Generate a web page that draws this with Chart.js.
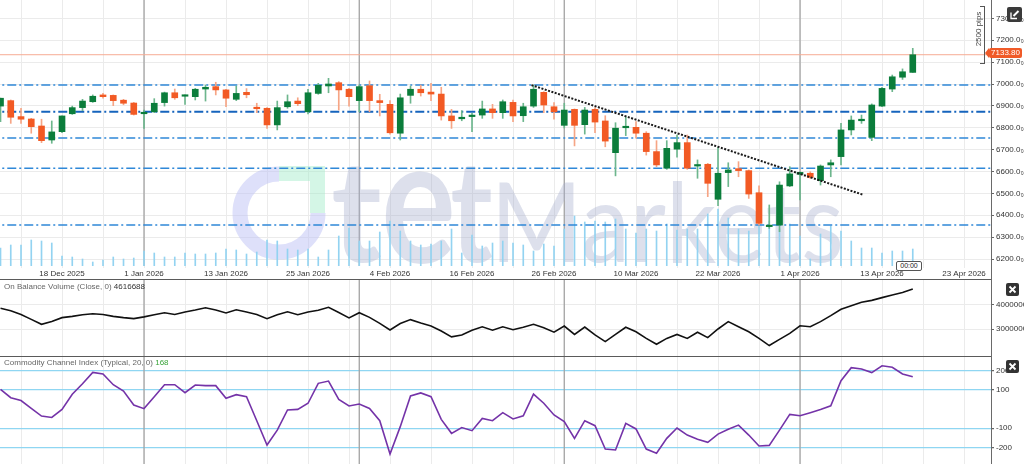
<!DOCTYPE html>
<html><head><meta charset="utf-8">
<script src="https://cdn.jsdelivr.net/npm/chart.js@4.4.1/dist/chart.umd.min.js"></script>
<style>
html,body{margin:0;padding:0;background:#fff;}
body{width:1024px;height:464px;overflow:hidden;position:relative;font-family:"Liberation Sans",Arial,sans-serif;}
canvas{position:absolute;left:0;display:block;}
.abs{position:absolute;}
.hl{position:absolute;left:0;width:992px;height:1px;background:#5a5a5a;}
.title{position:absolute;left:4px;font-size:8px;color:#666;white-space:nowrap;line-height:10px;}
.xbtn{position:absolute;left:1006px;width:13px;height:13px;}
</style></head>
<body>
<canvas id="cMain" width="1024" height="279" style="top:0"></canvas>
<canvas id="cObv" width="1024" height="76" style="top:280px"></canvas>
<canvas id="cCci" width="1024" height="107" style="top:357px"></canvas>

<div class="hl" style="top:279px"></div>
<div class="hl" style="top:356px"></div>
<div class="abs" style="left:991px;top:0;width:1px;height:464px;background:#6a6a6a"></div>

<div class="title" style="top:282px">On Balance Volume (Close, 0) <span id="obvVal" style="color:#333"></span></div>
<div class="title" style="top:358px">Commodity Channel Index (Typical, 20, 0) <span id="cciVal" style="color:#3aa43a"></span></div>

<svg class="abs" style="left:1007px;top:7px" width="15" height="15"><rect width="15" height="15" rx="2" fill="#3a3a3a"/><path d="M4 5.5v6h6" stroke="#fff" fill="none" stroke-width="1.3"/><path d="M6.5 9l5-5" stroke="#fff" stroke-width="2"/></svg>
<svg class="xbtn" style="top:283px" width="13" height="13"><rect width="13" height="13" rx="2" fill="#333"/><path d="M3.5 3.5l6 6M9.5 3.5l-6 6" stroke="#fff" stroke-width="1.8"/></svg>
<svg class="xbtn" style="top:360px" width="13" height="13"><rect width="13" height="13" rx="2" fill="#333"/><path d="M3.5 3.5l6 6M9.5 3.5l-6 6" stroke="#fff" stroke-width="1.8"/></svg>

<div class="abs" style="left:980px;top:6px;width:4px;height:56px;border:1px solid #555;border-left:none"></div>
<div class="abs" style="left:951px;top:24px;width:56px;height:10px;font-size:8px;color:#444;text-align:center;line-height:10px;transform:rotate(-90deg)">2500 pips</div>
<div id="pxBox" class="abs" style="left:989px;top:48px;width:33px;height:10px;background:#f05a28;color:#fff;font-size:8px;line-height:10px;text-align:center;border-radius:2px"></div>
<div class="abs" style="left:985px;top:48px;width:0;height:0;border-top:5px solid transparent;border-bottom:5px solid transparent;border-right:4px solid #f05a28"></div>
<div class="abs" style="left:896px;top:261px;width:24px;height:8px;border:1px solid #555;border-radius:2px;background:#fff;font-size:7px;line-height:8px;text-align:center;color:#222">00:00</div>

<script>
// ---------- DATA ----------
const dateLabels = ['18 Dec 2025','1 Jan 2026','13 Jan 2026','25 Jan 2026','4 Feb 2026','16 Feb 2026','26 Feb 2026','10 Mar 2026','22 Mar 2026','1 Apr 2026','13 Apr 2026','23 Apr 2026'];
const dateLabelBars = [6,14,22,30,38,46,54,62,70,78,86,94];
const monthStartBars = [14,35,55,78];
const priceTicks = [6200,6300,6400,6500,6600,6700,6800,6900,7000,7100,7200,7300];
const obvTicks = [3000000,4000000];
const cciTicks = [-200,-100,100,200];
const levels = [6995,6873,6753,6615,6355];
const lastPrice = 7133.80;
const trendBars = [51.8,84.2];
const trendPrices = [6995,6493];

const opens = [6899,6924,6851,6840,6808,6744,6782,6864,6892,6919,
6950,6948,6926,6913,6864,6873,6915,6960,6944,6942,
6977,6988,6973,6930,6962,6893,6889,6813,6896,6922,
6873,6957,6991,7006,6976,6924,6992,6924,6907,6775,
6948,6976,6963,6954,6854,6841,6851,6858,6886,6869,
6916,6855,6899,6962,6896,6811,6884,6814,6884,6831,
6686,6800,6802,6775,6691,6615,6702,6732,6625,6633,
6473,6595,6613,6604,6503,6348,6355,6534,6587,6592,
6558,6630,6668,6790,6832,6756,6899,6977,7031,7053];
const highs = [6936,6927,6889,6843,6839,6831,6855,6899,6930,6950,
6957,6950,6930,6916,6881,6933,6963,6977,6950,6980,
6995,7008,6976,6991,6979,6912,6892,6922,6950,6937,
6976,7003,7026,7011,6980,6995,7014,6953,6924,6954,
6991,6995,7003,6985,6884,6878,6866,6922,6907,6927,
6927,6912,6995,6965,6915,6912,6886,6893,6892,6855,
6823,6851,6828,6782,6741,6741,6767,6767,6653,6637,
6711,6640,6645,6607,6534,6447,6553,6622,6599,6599,
6630,6653,6820,6854,6858,6909,6985,7041,7069,7163];
const lows = [6828,6820,6820,6775,6732,6729,6777,6861,6878,6916,
6935,6901,6905,6858,6797,6869,6899,6930,6907,6927,
6922,6950,6896,6924,6937,6869,6797,6790,6889,6901,
6863,6953,6960,6881,6899,6873,6873,6854,6771,6744,
6912,6945,6924,6835,6797,6832,6782,6843,6843,6843,
6828,6828,6893,6869,6839,6799,6717,6771,6777,6713,
6580,6764,6752,6675,6622,6610,6665,6610,6569,6485,
6444,6531,6576,6477,6355,6340,6325,6531,6470,6569,
6538,6576,6630,6767,6820,6741,6896,6965,7021,7053];
const closes = [6935,6848,6839,6805,6741,6781,6854,6892,6922,6944,
6942,6924,6912,6861,6867,6912,6960,6937,6947,6976,
6985,6973,6935,6957,6951,6887,6813,6892,6919,6910,
6960,6994,7000,6973,6942,6988,6924,6915,6777,6937,
6976,6960,6954,6854,6832,6848,6855,6886,6869,6919,
6854,6896,6976,6904,6873,6881,6811,6881,6826,6739,
6798,6802,6775,6691,6630,6706,6732,6615,6628,6546,
6592,6607,6604,6497,6363,6351,6538,6589,6596,6573,
6625,6640,6790,6835,6839,6904,6980,7033,7056,7133.8];
const volumes = [1800,2100,2100,2600,2500,2300,1000,900,700,400,
600,900,700,800,1500,1300,900,900,1300,1200,
1200,1300,1700,1600,1200,1400,2600,2500,1700,1600,
1700,900,1600,3000,3800,2500,2500,3400,4500,3500,
2500,2100,2200,2500,3700,1300,3100,2000,2300,2500,
2300,2100,1500,2200,2000,3700,5000,4400,4500,4400,
4700,3700,3300,3700,3500,4200,3600,3700,3700,5200,
5700,4800,3700,3500,4500,4500,3700,4200,3000,700,
3200,4000,3500,2500,1800,1800,1300,1500,1500,1700];
const obv = [3840000,3740000,3590000,3390000,3190000,3300000,3460000,3510000,3580000,3620000,
3590000,3510000,3460000,3420000,3490000,3580000,3660000,3590000,3690000,3770000,
3860000,3770000,3650000,3780000,3690000,3590000,3420000,3580000,3700000,3580000,
3690000,3760000,3880000,3670000,3450000,3660000,3470000,3230000,2960000,3220000,
3380000,3240000,3120000,2920000,2680000,2760000,2950000,3090000,2950000,3090000,
2970000,3070000,3190000,3050000,2870000,3120000,2780000,3080000,2760000,2490000,
2780000,3070000,2890000,2620000,2380000,2620000,2780000,2620000,2870000,2650000,
3000000,3300000,3090000,2890000,2620000,2330000,2580000,2820000,3130000,3090000,
3300000,3540000,3800000,3940000,4080000,4160000,4270000,4380000,4480000,4616688];
const cci = [103,59,44,3,-37,-44,-2,77,132,191,
183,127,94,21,2,64,127,127,85,125,
122,122,56,75,64,-61,-188,-110,-5,-2,
30,134,146,50,16,26,3,-61,-235,-92,
68,84,64,-54,-127,-97,-113,-49,-61,-19,
-52,-35,78,30,-31,-66,-153,-61,-87,-209,
-214,-75,-104,-209,-231,-153,-99,-136,-158,-174,
-131,-106,-84,-136,-193,-190,-110,-28,-35,-19,
-2,17,148,216,209,190,226,218,183,168];

// ---------- checks ----------
[highs,lows,closes,volumes,obv,cci].forEach((a,k)=>{ if(a.length!==opens.length) throw new Error('length mismatch '+k+' '+a.length); });

document.getElementById('obvVal').textContent = obv[obv.length-1];
document.getElementById('cciVal').textContent = cci[cci.length-1];
document.getElementById('pxBox').textContent = lastPrice.toFixed(2);

// ---------- setup ----------
Chart.defaults.font.family = '"Liberation Sans", Arial, sans-serif';
Chart.defaults.font.size = 8;
Chart.defaults.color = '#333';
const X_MIN = -0.05, X_MAX = 96.73;
const idx = opens.map((_, i) => i);
const gridBars = []; for (let b = 2; b <= 94; b += 4) gridBars.push(b);
const UP = '#0b7d3b', DN = '#f25a24', UPW = '#6db68d', DNW = '#f6a585';

const monthLines = {
  id: 'monthLines',
  beforeDatasetsDraw(chart) {
    const { ctx, chartArea: a, scales: { x } } = chart;
    ctx.save(); ctx.strokeStyle = '#a3a3a3'; ctx.lineWidth = 1.3;
    monthStartBars.forEach(b => { const px = x.getPixelForValue(b);
      ctx.beginPath(); ctx.moveTo(px, a.top); ctx.lineTo(px, a.bottom); ctx.stroke(); });
    ctx.restore();
  }
};
// draw text stretched into a box (x0..x1, top..base)
function boxText(ctx, t, font, x0, x1, top, base, col) {
  ctx.save(); ctx.font = font; const m = ctx.measureText(t);
  const w = m.actualBoundingBoxLeft + m.actualBoundingBoxRight;
  const h = m.actualBoundingBoxAscent;
  ctx.translate(x0, base); ctx.scale((x1 - x0) / w, (base - top) / h);
  ctx.fillStyle = col; ctx.fillText(t, m.actualBoundingBoxLeft, 0); ctx.restore();
}
const watermark = {
  id: 'watermark',
  beforeDatasetsDraw(chart) {
    const ctx = chart.ctx; ctx.save();
    ctx.lineWidth = 15; ctx.strokeStyle = 'rgba(190,194,245,0.5)';
    ctx.beginPath(); ctx.arc(279, 213, 39, 0, 1.5 * Math.PI); ctx.stroke();
    ctx.fillStyle = 'rgba(160,235,200,0.45)';
    ctx.fillRect(279, 166, 46, 15); ctx.fillRect(310, 181, 15, 32);
    const wc = 'rgba(165,174,205,0.38)';
    boxText(ctx, 't', 'bold 150px Lato', 333, 381, 166, 262, wc);
    boxText(ctx, 'e', 'bold 150px Lato', 385, 452, 172, 263, wc);
    boxText(ctx, 't', 'bold 150px Lato', 452, 492, 166, 262, wc);
    boxText(ctx, 'Markets', '400 104px Lato', 499, 840, 180, 262, wc);
    ctx.restore();
  }
};

function xScale(withLabels) {
  return {
    type: 'linear', min: X_MIN, max: X_MAX, offset: false,
    afterBuildTicks: s => { s.ticks = gridBars.map(v => ({ value: v })); },
    ticks: { display: withLabels, autoSkip: false, maxRotation: 0, minRotation: 0, padding: 1,
      callback: v => { const k = dateLabelBars.indexOf(v); return k >= 0 ? dateLabels[k] : ''; } },
    grid: { color: '#ebebeb', lineWidth: 1, drawTicks: withLabels, tickLength: 2, offset: false },
    border: { display: false },
    afterFit: s => { s.height = withLabels ? 13 : 0; s.paddingLeft = 0; s.paddingRight = 0; }
  };
}
function yScale(min, max, ticks, fmt, gridColor, gridWidth) {
  return {
    position: 'right', min, max,
    afterBuildTicks: s => { s.ticks = ticks.map(v => ({ value: v })); },
    ticks: { callback: fmt, padding: 2, color: '#333', font: { size: 8 } },
    grid: { color: gridColor, lineWidth: gridWidth, drawTicks: true, tickLength: 2, tickColor: '#666' },
    border: { display: false },
    afterFit: s => { s.width = 32; s.paddingTop = 0; s.paddingBottom = 0; }
  };
}
const common = {
  responsive: false, animation: false, events: [],
  layout: { padding: 0 },
  plugins: { legend: { display: false }, tooltip: { enabled: false } }
};

// ---------- main price chart ----------
new Chart(document.getElementById('cMain'), {
  type: 'bar',
  data: { datasets: [
    { type: 'bar', data: idx.map(i => ({ x: i, y: volumes[i] })), yAxisID: 'yv', backgroundColor: '#93d3f1',
      barThickness: 1, grouped: false, order: 10 },
    ...levels.map((lv, k) => ({ type: 'line', data: [{ x: -1, y: lv }, { x: 98, y: lv }], yAxisID: 'y',
      borderColor: k === 1 ? '#1664bd' : '#2f88d8', borderWidth: k === 1 ? 2 : 1.5, borderDash: [9, 3, 2, 3],
      pointRadius: 0, order: 8 })),
    { type: 'line', data: [{ x: -1, y: lastPrice }, { x: 98, y: lastPrice }], yAxisID: 'y',
      borderColor: '#f7ab94', borderWidth: 1, pointRadius: 0, order: 7 },
    { type: 'bar', data: idx.map(i => ({ x: i, y: [lows[i], highs[i]] })), yAxisID: 'y',
      backgroundColor: idx.map(i => closes[i] >= opens[i] ? UPW : DNW), barThickness: 1, grouped: false, order: 5 },
    { type: 'bar', data: idx.map(i => ({ x: i, y: [opens[i], closes[i]] })), yAxisID: 'y',
      backgroundColor: idx.map(i => closes[i] >= opens[i] ? UP : DN), barThickness: 6, minBarLength: 1.5,
      grouped: false, order: 4 },
    { type: 'line', data: trendBars.map((b, k) => ({ x: b, y: trendPrices[k] })), yAxisID: 'y',
      borderColor: '#1a1a1a', borderWidth: 2, borderDash: [2, 1.5], pointRadius: 0, order: 1 }
  ] },
  options: { ...common,
    scales: {
      x: xScale(true),
      y: yScale(6168, 7384, priceTicks, v => v.toFixed(1) + '\u2080', '#ebebeb', 1),
      yv: { display: false, min: 0, max: 26600 }
    } },
  plugins: [monthLines, watermark]
});

// ---------- OBV ----------
new Chart(document.getElementById('cObv'), {
  type: 'line',
  data: { datasets: [{ data: idx.map(i => ({ x: i, y: obv[i] })), borderColor: '#111', borderWidth: 1.6,
    pointRadius: 0, tension: 0 }] },
  options: { ...common,
    scales: { x: xScale(false), y: yScale(1907000, 4984000, obvTicks, v => String(v), '#ebebeb', 1) } },
  plugins: [monthLines]
});

// ---------- CCI ----------
new Chart(document.getElementById('cCci'), {
  type: 'line',
  data: { datasets: [{ data: idx.map(i => ({ x: i, y: cci[i] })), borderColor: '#7433a8', borderWidth: 1.6,
    pointRadius: 0, tension: 0 }] },
  options: { ...common,
    scales: { x: xScale(false), y: yScale(-287, 271.5, cciTicks, v => String(v), '#8fd6f2', 1.2) } },
  plugins: [monthLines]
});
</script>
</body></html>
